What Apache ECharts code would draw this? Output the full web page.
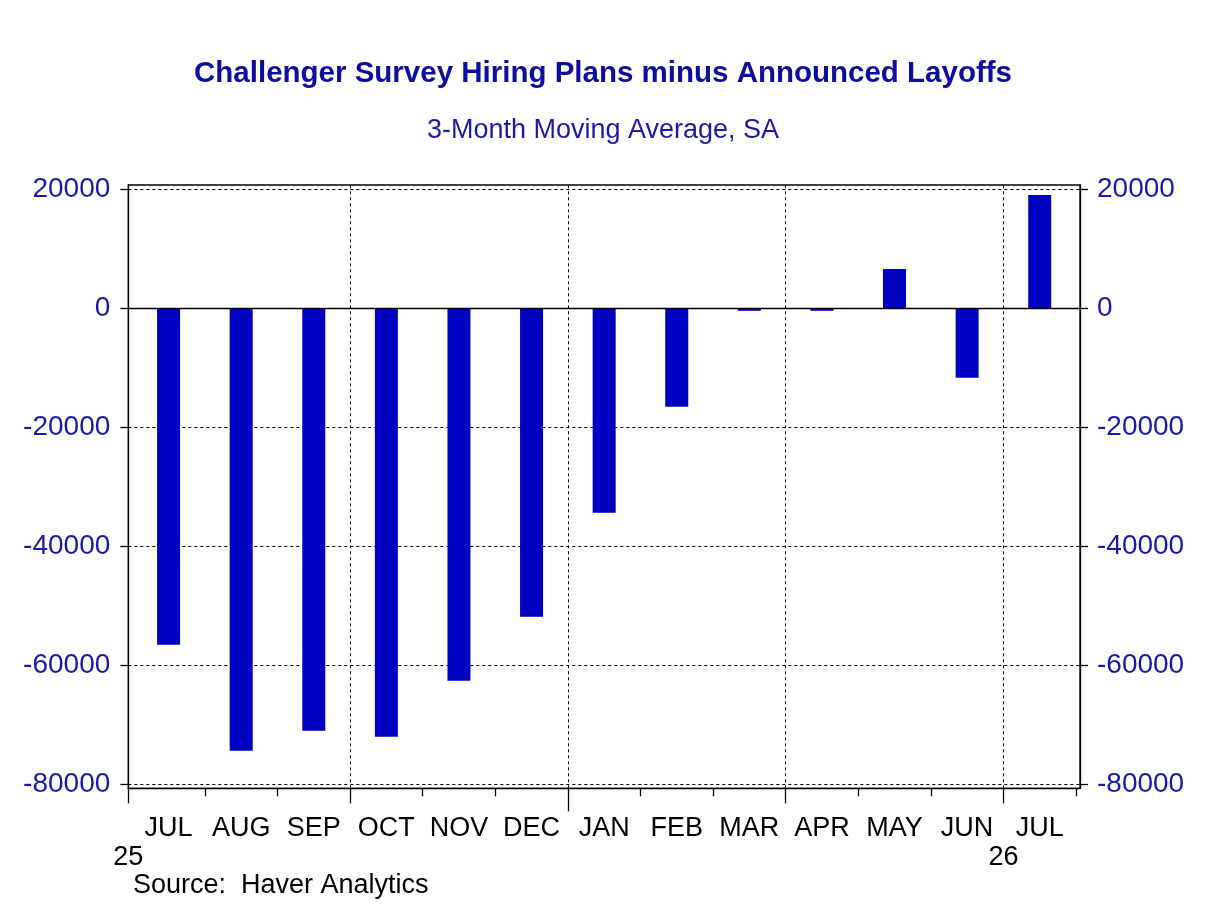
<!DOCTYPE html>
<html>
<head>
<meta charset="utf-8">
<script src="https://cdn.jsdelivr.net/npm/echarts@6/dist/echarts.min.js"></script>
<style>html,body{margin:0;padding:0;background:#fff}#c{width:1208px;height:906px}</style>
</head>
<body>
<div id="c"></div>
<script>
const months = ['JUL','AUG','SEP','OCT','NOV','DEC','JAN','FEB','MAR','APR','MAY','JUN','JUL'];
const values = [-56540, -74350, -71000, -72000, -62590, -51830, -34350, -16540, -420, -420, 6600, -11660, 19040];
const yTicks = [-80000, -60000, -40000, -20000, 0, 20000];
const yearLabels = ['25', '26'];
const quarterBounds = [2.5, 5.5, 8.5, 11.5];

const X_MIN = -0.555, X_MAX = 12.555;
const Y_MIN = -80670, Y_MAX = 20720;
const FONT = 'Liberation Sans, Arial, sans-serif';
const BLUE_TXT = '#1a1aa6';

const idx = months.map((m, i) => i);
const minorTicks = idx.map(i => i + 0.5).filter(v => !quarterBounds.includes(v));
const yearPos = [X_MIN, quarterBounds[3]];

const chart = echarts.init(document.getElementById('c'), null, {renderer: 'canvas'});

const baseX = {
  type: 'value', gridIndex: 0, min: X_MIN, max: X_MAX, position: 'bottom',
  splitLine: {show: false}, axisLine: {show: false, onZero: false}, axisTick: {show: false}, axisLabel: {show: false}
};

const option = {
  animation: false,
  backgroundColor: '#fff',
  grid: {left: 128.3, right: 128, top: 185, bottom: 117.7, show: true, borderColor: '#000', borderWidth: 1.3, backgroundColor: 'transparent'},
  xAxis: [
    Object.assign({}, baseX, {
      axisLine: {show: true, onZero: false, lineStyle: {color: '#000', width: 1.3}},
      axisTick: {show: true, customValues: minorTicks, length: 8, lineStyle: {color: '#000', width: 1.3}},
      axisLabel: {show: true, customValues: idx, formatter: v => months[Math.round(v)], margin: 27,
        color: '#000', fontFamily: FONT, fontSize: 27}
    }),
    Object.assign({}, baseX, {
      axisTick: {show: true, customValues: [X_MIN, quarterBounds[0], quarterBounds[2], quarterBounds[3]], length: 15, lineStyle: {color: '#000', width: 1.3}},
      axisLabel: {show: true, customValues: yearPos, formatter: v => (v < 0 ? yearLabels[0] : yearLabels[1]), margin: 56,
        color: '#000', fontFamily: FONT, fontSize: 27, showMinLabel: true}
    }),
    Object.assign({}, baseX, {
      axisTick: {show: true, customValues: [quarterBounds[1]], length: 23, lineStyle: {color: '#000', width: 1.3}}
    })
  ],
  yAxis: [
    {
      type: 'value', min: Y_MIN, max: Y_MAX, position: 'left',
      axisLine: {show: true, onZero: false, lineStyle: {color: '#000', width: 1.3}},
      axisTick: {show: true, customValues: yTicks, length: 8, lineStyle: {color: '#000', width: 1.3}},
      axisLabel: {customValues: yTicks, formatter: v => String(v), margin: 18, color: BLUE_TXT, fontFamily: FONT, fontSize: 28},
      splitLine: {show: true, lineStyle: {color: '#000', type: [3, 3], width: 1}}
    },
    {
      type: 'value', min: Y_MIN, max: Y_MAX, position: 'right',
      axisLine: {show: true, onZero: false, lineStyle: {color: '#000', width: 1.3}},
      axisTick: {show: true, customValues: yTicks, length: 8, lineStyle: {color: '#000', width: 1.3}},
      axisLabel: {customValues: yTicks, formatter: v => String(v), margin: 17, color: BLUE_TXT, fontFamily: FONT, fontSize: 28},
      splitLine: {show: false}
    }
  ],
  series: [{
    type: 'bar',
    xAxisIndex: 0, yAxisIndex: 0,
    data: values.map((v, i) => [i, v]),
    barWidth: 23,
    itemStyle: {color: '#0000c0'},
    markLine: {
      silent: true, symbol: 'none', label: {show: false},
      data: [
        {yAxis: 0, lineStyle: {color: '#000', type: 'solid', width: 1.3}}
      ].concat(quarterBounds.map(q => ({xAxis: q, lineStyle: {color: '#000', type: [3, 3], width: 1}})))
    }
  }],
  graphic: [
    {type: 'text', x: 603, y: 74, style: {text: 'Challenger Survey Hiring Plans minus Announced Layoffs', fill: '#0d0d9e',
      font: 'bold 29.5px ' + FONT, textAlign: 'center', textVerticalAlign: 'middle'}},
    {type: 'text', x: 603, y: 131, style: {text: '3-Month Moving Average, SA', fill: BLUE_TXT,
      font: '27px ' + FONT, textAlign: 'center', textVerticalAlign: 'middle'}},
    {type: 'text', x: 133, y: 886, style: {text: 'Source:  Haver Analytics', fill: '#000',
      font: '27px ' + FONT, textAlign: 'left', textVerticalAlign: 'middle'}}
  ]
};
chart.setOption(option);
</script>
</body>
</html>
